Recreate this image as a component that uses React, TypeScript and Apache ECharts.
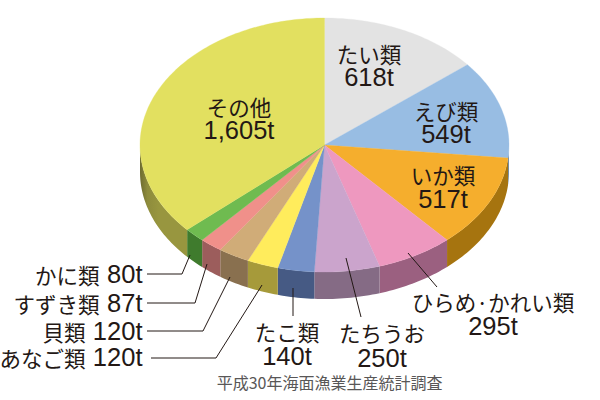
import React, { useEffect, useRef } from "react";
import * as echarts from "echarts";

// Clockwise from 12 o'clock
const categories = ["たい類", "えび類", "いか類", "ひらめ·かれい類", "たちうお", "たこ類", "あなご類", "貝類", "すずき類", "かに類", "その他"];
const values = [618, 549, 517, 295, 250, 140, 120, 120, 87, 80, 1605];
const topColors = ["#e3e3e3", "#98bde3", "#f5ae2d", "#ee98bf", "#cba4cc", "#7592c9", "#ffec5c", "#d0ac78", "#f0908a", "#6fbb50", "#e2e060"];
const sideColors = ["#a0a0a0", "#6f8aa8", "#a6740f", "#9b6080", "#856b85", "#465a84", "#a69a3a", "#89704f", "#9c5d5c", "#3f7b2d", "#98963f"];
const source = "平成30年海面漁業生産統計調査";

const CX = 324.5, CY = 145, RX = 184.5, RY = 127, DEPTH = 27;
const FONT = '"Noto Sans CJK JP", sans-serif';
const LATIN = '"Liberation Sans", sans-serif';
const NAME_SIZE = 21.5, VALUE_SIZE = 25.5;
const TEXT_COLOR = "#231815";

const total = values.reduce((a, b) => a + b, 0);
const starts: number[] = [];
values.reduce((acc, v) => { starts.push(acc); return acc + v; }, 0);
const angleOf = (v: number) => (v / total) * Math.PI * 2;
const pt = (a: number, dy = 0): number[] => [CX + RX * Math.sin(a), CY - RY * Math.cos(a) + dy];
const arc = (a0: number, a1: number, dy = 0): number[][] => {
  const n = Math.max(2, Math.ceil((a1 - a0) / 0.02));
  const out: number[][] = [];
  for (let i = 0; i <= n; i++) out.push(pt(a0 + ((a1 - a0) * i) / n, dy));
  return out;
};

const renderTop = (params: any, api: any) => {
  const i = params.dataIndex;
  const a0 = angleOf(starts[i]);
  const a1 = a0 + angleOf(api.value(0));
  return {
    type: "polygon",
    shape: { points: [[CX, CY], ...arc(a0, a1)] },
    style: { fill: topColors[i], stroke: topColors[i], lineWidth: 0.3 },
    silent: true,
  };
};

// The largest slice's wall darkens towards the pie's left edge.
const sideFill = (i: number) =>
  i === values.length - 1
    ? new echarts.graphic.LinearGradient(0, 0, 1, 0, [
        { offset: 0, color: "#6e6c30" },
        { offset: 0.16, color: "#8e8c3c" },
        { offset: 0.4, color: sideColors[i] },
        { offset: 1, color: sideColors[i] },
      ])
    : sideColors[i];

const renderSide = (params: any, api: any) => {
  const i = params.dataIndex;
  const a0 = Math.max(angleOf(starts[i]), Math.PI / 2);
  const a1 = Math.min(angleOf(starts[i]) + angleOf(api.value(0)), (Math.PI * 3) / 2);
  if (a1 <= a0) return { type: "group", children: [] };
  return {
    type: "polygon",
    shape: { points: [...arc(a0, a1), ...arc(a0, a1, DEPTH).reverse()] },
    style: { fill: sideFill(i) },
    silent: true,
  };
};

const fmt = (v: number) => v.toLocaleString("en-US") + "t";
const nameText = (s: string, x: number, y: number, align = "center") => ({
  type: "text", x, y, silent: true, z: 10,
  style: { text: s, align, verticalAlign: "middle", fontFamily: FONT, fontSize: NAME_SIZE, fill: TEXT_COLOR },
});
const valueText = (s: string, x: number, y: number, align = "center") => ({
  type: "text", x, y, silent: true, z: 10,
  style: { text: s, align, verticalAlign: "middle", fontFamily: LATIN, fontSize: VALUE_SIZE, fill: TEXT_COLOR },
});
const two = (i: number, x: number, y1: number, y2: number) => [
  nameText(categories[i], x, y1),
  valueText(fmt(values[i]), x, y2),
];
const inline = (i: number, y: number) => {
  const w = fmt(values[i]).length === 3 ? 36 : 50;
  return [valueText(fmt(values[i]), 142.5, y, "right"), nameText(categories[i], 142.5 - w - 7, y, "right")];
};
const leader = (points: number[][]) => ({
  type: "polyline", silent: true, z: 9,
  shape: { points },
  style: { stroke: TEXT_COLOR, lineWidth: 1, fill: "none" },
});

export default function App() {
  const ref = useRef<HTMLDivElement>(null);
  useEffect(() => {
    const chart = echarts.init(ref.current!, undefined, { renderer: "svg" });
    chart.setOption({
      animation: false,
      series: [
        { type: "custom", coordinateSystem: "none", renderItem: renderSide, data: values, silent: true, z: 1 },
        { type: "custom", coordinateSystem: "none", renderItem: renderTop, data: values, silent: true, z: 2 },
      ],
      graphic: [
        ...two(0, 369, 53.5, 76.5),
        ...two(1, 446, 110.5, 133.5),
        ...two(2, 443, 174.5, 198.5),
        ...two(10, 239, 106.5, 129.5),
        ...two(3, 493, 301.5, 325.5),
        ...two(4, 382, 332.5, 357.5),
        ...two(5, 287, 331.5, 355.5),
        ...inline(9, 274),
        ...inline(8, 303),
        ...inline(7, 331),
        ...inline(6, 357),
        leader([[147, 274], [182, 274], [190, 255]]),
        leader([[147, 303], [195, 303], [207, 264]]),
        leader([[147, 331], [203, 331], [230, 277]]),
        leader([[151, 358], [216, 358], [262, 285]]),
        leader([[293, 288], [293, 316]]),
        leader([[346, 258], [361, 317]]),
        leader([[408, 253], [437, 287]]),
        {
          type: "text", x: 329.5, y: 382, silent: true, z: 10,
          style: { text: source, align: "center", verticalAlign: "middle", fontFamily: FONT, fontSize: 16, fill: "#595757" },
        },
      ],
    });
    return () => chart.dispose();
  }, []);
  return <div ref={ref} style={{ position: "absolute", left: 0, top: 0, width: 600, height: 400 }} />;
}
